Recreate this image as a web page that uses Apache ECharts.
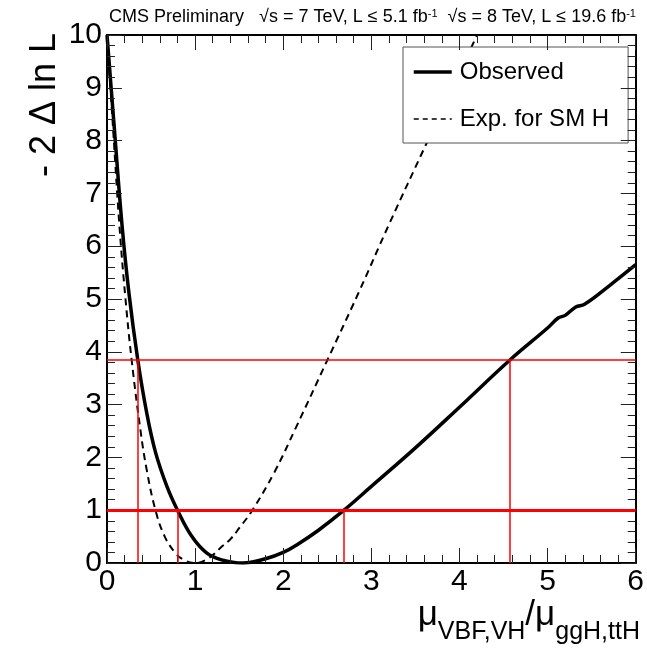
<!DOCTYPE html>
<html>
<head>
<meta charset="utf-8">
<script src="https://cdn.jsdelivr.net/npm/echarts@6/dist/echarts.min.js"></script>
<style>
  html, body { margin: 0; padding: 0; background: #fff; }
  #chart { width: 647px; height: 648px; }
</style>
</head>
<body>
<div id="chart"></div>
<script>
// observed likelihood scan
const obsX = [0, 0.08, 0.17, 0.25, 0.35, 0.45, 0.55, 0.68, 0.8, 0.96, 1.13, 1.3, 1.54, 1.8, 2.0, 2.17, 2.4, 2.69, 3.0, 3.5, 4.0, 4.57, 5.0, 5.12, 5.2, 5.32, 5.42, 5.7, 6.0]
const obsY = [10, 8.3, 6.41, 5.1, 3.84, 2.85, 2.1, 1.45, 1.0, 0.51, 0.19, 0.06, 0, 0.08, 0.2, 0.36, 0.62, 1.0, 1.45, 2.18, 2.95, 3.84, 4.45, 4.64, 4.69, 4.85, 4.9, 5.25, 5.65]
// expected for SM Higgs
const expX = [0, 0.07, 0.14, 0.21, 0.28, 0.38, 0.45, 0.55, 0.65, 0.77, 0.86, 1.0, 1.16, 1.31, 1.4, 1.5, 1.65, 1.9, 2.14, 2.5, 2.85, 3.2, 3.63, 4.2]
const expY = [10, 8.2, 6.41, 5.0, 3.84, 2.51, 1.77, 1.0, 0.52, 0.2, 0.07, 0, 0.1, 0.32, 0.45, 0.66, 1.0, 1.72, 2.55, 3.84, 5.1, 6.41, 7.96, 10]
// 68% and 95% CL thresholds and crossing points of the observed curve
const levels = [1, 3.84]
const cross68 = [0.8, 2.69]
const cross95 = [0.35, 4.57]

// axis ticks: major values, minor subdivisions
const xMajor = [0, 1, 2, 3, 4, 5, 6]
const yMajor = [0, 1, 2, 3, 4, 5, 6, 7, 8, 9, 10]
const minorDiv = 5

const pairs = (xs, ys) => xs.map((x, i) => [x, ys[i]])

const W = 647, H = 648
const gridBox = { left: 107, right: 8, top: 35, bottom: 85 }
const xMin = xMajor[0], xMax = xMajor[xMajor.length - 1]
const yMin = yMajor[0], yMax = yMajor[yMajor.length - 1]
// pixels per data unit, used to turn tick lengths (px) into axis units
const pxX = (W - gridBox.left - gridBox.right) / (xMax - xMin)
const pxY = (H - gridBox.top - gridBox.bottom) / (yMax - yMin)

// tick list [value, isMajor] built from the major tick labels
function tickList(major) {
    const out = []
    major.forEach((v, i) => {
        out.push([v, 1])
        if (i < major.length - 1) {
            const step = (major[i + 1] - v) / minorDiv
            for (let k = 1; k < minorDiv; k++) out.push([v + k * step, 0])
        }
    })
    return out
}

const tickStyle = { color: '#222', width: 1, type: 'solid' }
const tickSegs = []
tickList(xMajor).forEach(([v, m]) => {
    const len = (m ? 15 : 8) / pxY
    tickSegs.push([{ coord: [v, yMin], lineStyle: tickStyle }, { coord: [v, yMin + len] }])
    tickSegs.push([{ coord: [v, yMax], lineStyle: tickStyle }, { coord: [v, yMax - len] }])
})
tickList(yMajor).forEach(([v, m]) => {
    const len = (m ? 15 : 8) / pxX
    tickSegs.push([{ coord: [xMin, v], lineStyle: tickStyle }, { coord: [xMin + len, v] }])
    tickSegs.push([{ coord: [xMax, v], lineStyle: tickStyle }, { coord: [xMax - len, v] }])
})

function axisBase(min, max, interval, position, showLabel, margin) {
    return {
        type: 'value',
        min: min,
        max: max,
        interval: interval,
        position: position,
        axisLine: { show: true, onZero: false, lineStyle: { color: '#000', width: 2 } },
        axisTick: { show: false },
        minorTick: { show: false },
        splitLine: { show: false },
        minorSplitLine: { show: false },
        axisLabel: { show: showLabel, color: '#000', fontSize: 30, fontFamily: 'Liberation Sans', margin: margin }
    }
}

const vLines = cross68.map(x => [{ coord: [x, 0] }, { coord: [x, levels[0]] }])
    .concat(cross95.map(x => [{ coord: [x, 0] }, { coord: [x, levels[1]] }]))

const redThin = { color: '#ff0000', width: 1.5, type: 'solid' }

const option = {
    animation: false,
    grid: gridBox,
    xAxis: [
        axisBase(xMin, xMax, 1, 'bottom', true, 4),
        axisBase(xMin, xMax, 1, 'top', false, 4)
    ],
    yAxis: [
        axisBase(yMin, yMax, 1, 'left', true, 5),
        axisBase(yMin, yMax, 1, 'right', false, 5)
    ],
    legend: {
        orient: 'vertical',
        left: 403,
        top: 47,
        padding: [13, 19, 12, 9],
        itemWidth: 38,
        itemHeight: 24,
        itemGap: 23,
        backgroundColor: '#fff',
        borderColor: '#555',
        borderWidth: 1,
        borderRadius: 0,
        itemStyle: { color: 'transparent', borderColor: 'transparent', borderWidth: 0, opacity: 0 },
        textStyle: { color: '#000', fontSize: 24, fontFamily: 'Liberation Sans', padding: [0, 0, 0, 3] },
        data: [
            { name: 'Observed', lineStyle: { width: 3.5 } },
            { name: 'Exp. for SM H', lineStyle: { width: 1.5, type: [5, 4] } }
        ]
    },
    series: [
        {
            // inward ticks on all four sides
            type: 'line',
            data: [],
            z: 2,
            markLine: {
                silent: true,
                symbol: 'none',
                label: { show: false },
                animation: false,
                data: tickSegs
            }
        },
        {
            name: 'Observed',
            type: 'line',
            data: pairs(obsX, obsY),
            symbol: 'none',
            smooth: 0.4,
            lineStyle: { color: '#000', width: 3.5 },
            itemStyle: { color: '#000' },
            z: 3
        },
        {
            name: 'Exp. for SM H',
            type: 'line',
            data: pairs(expX, expY),
            symbol: 'none',
            smooth: 0.4,
            lineStyle: { color: '#000', width: 2, type: [7, 5] },
            itemStyle: { color: '#000' },
            z: 3
        },
        {
            // red CL lines
            type: 'line',
            data: [],
            z: 4,
            markLine: {
                silent: true,
                symbol: 'none',
                label: { show: false },
                animation: false,
                data: [
                    { yAxis: levels[0], lineStyle: { color: '#ff0000', width: 3, type: 'solid' } },
                    { yAxis: levels[1], lineStyle: redThin }
                ].concat(vLines.map(l => [Object.assign({ lineStyle: redThin }, l[0]), l[1]]))
            }
        }
    ],
    graphic: [
        {
            type: 'text',
            left: 109,
            top: 8,
            style: {
                text: 'CMS Preliminary   √s = 7 TeV, L ≤ 5.1 fb{sup|-1}  √s = 8 TeV, L ≤ 19.6 fb{sup|-1}',
                font: '18px "Liberation Sans"',
                fill: '#000',
                rich: {
                    sup: { fontSize: 11, verticalAlign: 'top', fontFamily: 'Liberation Sans', padding: [0, 0, 8, 0] }
                }
            }
        },
        {
            type: 'text',
            x: 45,
            y: 105,
            rotation: Math.PI / 2,
            style: {
                text: '- 2 Δ ln L',
                font: '36px "Liberation Sans"',
                fill: '#000',
                align: 'center',
                verticalAlign: 'middle'
            }
        },
        {
            type: 'text',
            right: 7,
            top: 598,
            style: {
                text: '{mu|μ}{sub|VBF,VH}{mu|/μ}{sub|ggH,ttH}',
                fill: '#000',
                rich: {
                    mu: { fontSize: 35, fontFamily: 'Liberation Sans', verticalAlign: 'top', padding: [0, 0, 12, 0] },
                    sub: { fontSize: 25, fontFamily: 'Liberation Sans', verticalAlign: 'bottom' }
                }
            }
        }
    ]
}

const chart = echarts.init(document.getElementById('chart'))
chart.setOption(option)
window.addEventListener('resize', () => chart.resize())
</script>
</body>
</html>
